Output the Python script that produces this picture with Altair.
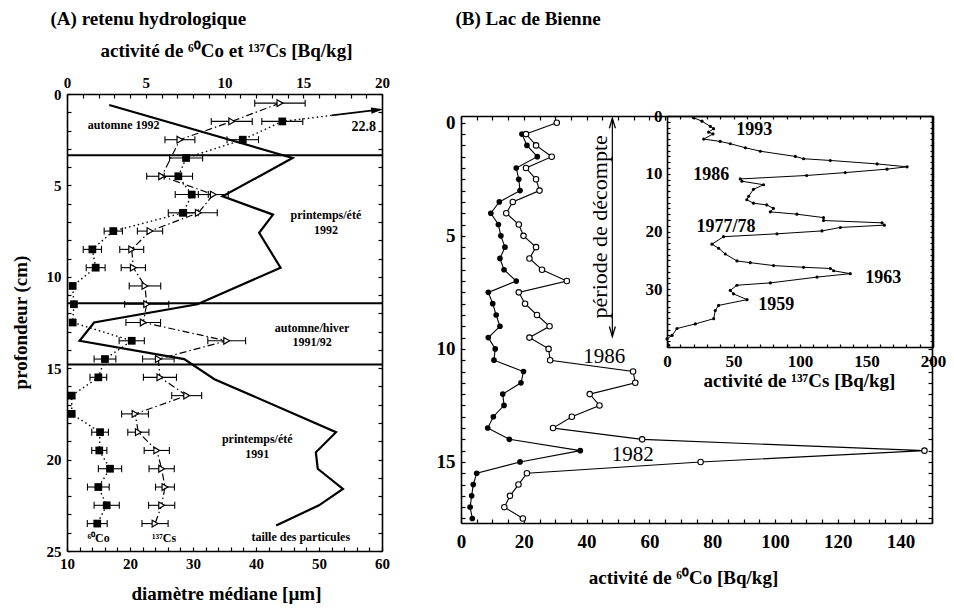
import altair as alt
import pandas as pd

FONT = "Liberation Serif"
W, H = 954, 610

# ================= DATA =================
# ---- Panel A : retenu hydrologique ----
co_depth = [1.5, 2.5, 3.5, 4.5, 5.5, 6.5, 7.5, 8.5, 9.5, 10.5, 11.5, 12.5,
            13.5, 14.5, 15.5, 16.5, 17.5, 18.5, 19.5, 20.5, 21.5, 22.5, 23.5]
co_act = [13.67, 11.16, 7.56, 7.07, 7.92, 7.38, 2.94, 1.61, 1.82, 0.36, 0.44, 0.36,
          4.11, 2.41, 1.99, 0.30, 0.30, 2.10, 2.05, 2.73, 1.99, 2.52, 1.92]
co_err = [1.3, 1.0, 1.05, 0.9, 1.05, 0.95, 0.58, 0.58, 0.6, 0, 0, 0,
          0.8, 0.69, 0.53, 0, 0, 0.53, 0.48, 0.74, 0.69, 0.8, 0.63]
cs_depth = [0.5, 1.5, 2.5, 4.5, 5.5, 6.5, 7.5, 8.5, 9.5, 10.5, 11.5, 12.5,
            13.5, 14.5, 15.5, 16.5, 17.5, 18.5, 19.5, 20.5, 21.5, 22.5, 23.5]
cs_act = [13.52, 10.46, 7.17, 6.01, 9.29, 8.34, 5.27, 4.11, 4.21, 4.95, 5.06, 4.84,
          10.14, 5.80, 5.90, 7.60, 4.32, 4.53, 5.70, 6.01, 6.22, 6.01, 5.59]
cs_err = [1.6, 1.3, 0.95, 0.95, 0.95, 1.2, 0.8, 0.76, 0.77, 1.0, 1.4, 1.1,
          1.2, 1.0, 1.05, 0.95, 0.85, 0.67, 0.8, 0.8, 0.6, 0.83, 0.83]
# off-scale 60Co value (22.8 Bq/kg) drawn as an arrow leaving the frame
co_arrow_act = [16.8, 19.7]
co_arrow_depth = [1.17, 0.87]
grain_depth = [0.6, 3.5, 5.6, 6.6, 7.6, 9.5, 11.5, 12.5, 13.5, 14.5, 15.6,
               18.5, 19.6, 20.5, 21.6, 22.5, 23.6]
grain_diam = [16.7, 45.8, 34.7, 42.7, 40.5, 43.9, 30.7, 14.3, 12.0, 28.6, 33.4,
              52.7, 49.5, 49.8, 53.8, 50.0, 43.2]
season_bounds = [3.35, 11.45, 14.8]

a_note_text = ["automne 1992", "printemps/été", "1992", "automne/hiver", "1991/92",
               "printemps/été", "1991"]
a_note_diam = [19.0, 51.1, 51.1, 48.9, 48.9, 40.2, 40.2]
a_note_depth = [1.7, 6.62, 7.42, 12.78, 13.58, 18.9, 19.7]
a_small_text = ["taille des particules", "⁶⁰Co", "¹³⁷Cs"]
a_small_diam = [47.1, 15.0, 25.4]
a_small_depth = [24.23, 24.29, 24.29]

# ---- Panel B : Lac de Bienne ----
b_open_depth = [0.0, 0.5, 1.0, 1.5, 2.0, 2.5, 3.0, 3.5, 4.0, 4.5, 5.0, 5.5, 6.0, 6.5,
                7.0, 7.5, 8.0, 8.5, 9.0, 9.5, 10.0, 10.5, 11.0, 11.5, 12.0, 12.5,
                13.0, 13.5, 14.0, 14.5, 15.0, 15.5, 16.0, 16.5, 17.0, 17.5]
b_open = [30.5, 20.7, 23.9, 28.9, 20.7, 23.9, 25.0, 16.5, 14.4, 18.4, 19.9, 23.9,
          21.8, 25.8, 33.7, 18.4, 20.4, 24.2, 28.2, 21.8, 27.9, 28.4, 54.8, 55.5,
          41.0, 44.1, 35.3, 29.3, 57.7, 147.6, 76.3, 21.0, 18.3, 15.6, 13.8, 19.7]
b_fill_depth = [0.5, 1.0, 1.5, 2.0, 2.5, 3.0, 3.5, 4.0, 4.5, 5.0, 5.5, 6.0, 6.5,
                7.0, 7.5, 8.0, 8.5, 9.0, 9.5, 10.0, 10.5, 11.0, 11.5, 12.0, 12.5,
                13.0, 13.5, 14.0, 14.5, 15.0, 15.5, 16.0, 16.5, 17.0, 17.5]
b_fill = [19.4, 21.0, 24.3, 17.6, 18.4, 18.8, 12.2, 9.5, 11.9, 12.7, 14.0, 12.4,
          13.7, 17.6, 8.7, 10.1, 11.2, 12.4, 8.7, 10.9, 10.5, 19.9, 19.1, 13.3,
          13.7, 10.3, 8.5, 15.4, 38.0, 18.8, 5.0, 3.9, 3.4, 2.9, 3.6]
b_note_text = ["1986", "1982"]
b_note_act = [45.6, 54.7]
b_note_depth = [10.35, 14.7]
count_period_act = [48.2]
count_period_top = [-0.2]
count_period_bottom = [9.45]

# ---- Inset : 137Cs ----
inset_cs = [20, 26.3, 32.6, 35, 31.3, 34.6, 27.6, 40, 47.6, 58.9, 70.2, 96.5, 102.7,
            122.8, 158, 180.5, 165.4, 134, 105, 55.1, 56.4, 72.6, 65, 61.4, 60, 65,
            75, 80, 77.7, 97.7, 117.7, 117.7, 161.7, 163.4, 130.3, 116.5, 82.7, 42.5,
            33.8, 38.8, 43.8, 52.6, 62.6, 80.1, 102.7, 122.8, 125.3, 137.8, 112.8,
            77.7, 52.6, 47.6, 50, 60.2, 38.8, 36.3, 35.1, 21.3, 7.5, 3.8, 0, 1.3]
inset_depth = [0.3, 0.9, 1.8, 2.2, 2.8, 3.1, 4.0, 4.4, 4.8, 5.5, 6.1, 7.0, 7.4,
               7.7, 8.3, 8.8, 9.2, 9.8, 10.3, 10.9, 11.3, 11.9, 12.7, 13.9, 14.5, 15.1,
               15.4, 16.0, 16.6, 17.0, 17.6, 18.1, 18.5, 18.9, 19.3, 19.9, 20.4, 20.9,
               22.2, 22.9, 23.9, 25.1, 25.4, 25.9, 26.2, 26.4, 26.8, 27.3, 27.9,
               28.9, 29.3, 30.2, 30.8, 31.8, 32.8, 33.7, 35.1, 36.0, 36.8, 38.0, 38.6, 39.7]
i_note_text = ["1993", "1986", "1977/78", "1963", "1959"]
i_note_cs = [65.6, 33.3, 44.4, 162.6, 82.2]
i_note_depth = [2.35, 10.2, 19.2, 28.0, 32.8]


# ================= SCALES =================
def S(d, r):
    return alt.Scale(domain=d, range=r, nice=False, zero=False)


XA_ACT = S([0, 20], [67, 382])
XA_DIA = S([10, 60], [67, 382])
YA = S([0, 25], [94, 551])
XB = S([0, 150], [461, 932])
YB = S([-0.3, 17.7], [116, 523])
XI = S([0, 200], [667, 933])
YI = S([0, 40], [116, 347])


def X(f, s):
    return alt.X(f, type="quantitative", scale=s, axis=None)


def Y(f, s):
    return alt.Y(f, type="quantitative", scale=s, axis=None)


def frame_axis(ch, scale, orient, pos, values, labels=False, **kw):
    off = {"left": -pos, "right": pos - W, "top": -pos, "bottom": pos - H}[orient]
    props = dict(orient=orient, offset=off, values=values, grid=False,
                 labelFlush=False, labelOverlap=False,
                 labelFont=FONT, titleFont=FONT, labelFontWeight="bold", titleFontWeight="bold",
                 labelColor="black", titleColor="black", domainColor="black", tickColor="black")
    if labels:
        props.update(ticks=False, domain=False, labels=True)
    else:
        props.update(ticks=True, tickSize=kw.pop("tickSize", 4), domain=True, labels=False)
    props.update(kw)
    props.setdefault("title", None)
    df = pd.DataFrame({"v": [values[0]]})
    enc = alt.X if ch == "x" else alt.Y
    return alt.Chart(df).mark_point(opacity=0).encode(
        **{ch: enc("v:Q", scale=scale, axis=alt.Axis(**props))})


def steps(a, b, s):
    out, v = [], a
    while v <= b + 1e-9:
        out.append(round(v, 3))
        v += s
    return out


def txt(**kw):
    base = dict(font=FONT, color="black")
    base.update(kw)
    return base


layers = []

# ================= PANEL A =================
bnd = pd.DataFrame({"z": season_bounds, "x0": [10] * 3, "x1": [60] * 3})
layers.append(alt.Chart(bnd).mark_rule(color="black", strokeWidth=2).encode(
    x=X("x0", XA_DIA), x2="x1", y=Y("z", YA)))

grain = pd.DataFrame({"d": grain_diam, "z": grain_depth, "i": range(len(grain_diam))})
layers.append(alt.Chart(grain).mark_line(color="black", strokeWidth=2.2).encode(
    x=X("d", XA_DIA), y=Y("z", YA), order="i:Q"))

co_line = pd.DataFrame({"v": [co_arrow_act[0]] + co_act, "z": [co_arrow_depth[0]] + co_depth})
co_line["i"] = range(len(co_line))
layers.append(alt.Chart(co_line).mark_line(color="black", strokeWidth=1.4, strokeDash=[1.5, 3]).encode(
    x=X("v", XA_ACT), y=Y("z", YA), order="i:Q"))
arrow = pd.DataFrame({"v": co_arrow_act, "z": co_arrow_depth, "i": [0, 1]})
layers.append(alt.Chart(arrow).mark_line(color="black", strokeWidth=1.6).encode(
    x=X("v", XA_ACT), y=Y("z", YA), order="i:Q"))
layers.append(alt.Chart(arrow.iloc[[1]]).mark_point(
    shape="M-1,-0.5L1,0L-1,0.5Z", filled=True, color="black", size=150, angle=353, opacity=1).encode(
    x=X("v", XA_ACT), y=Y("z", YA)))

cs_line = pd.DataFrame({"v": cs_act, "z": cs_depth, "i": range(len(cs_act))})
layers.append(alt.Chart(cs_line).mark_line(color="black", strokeWidth=1.2, strokeDash=[7, 3, 1.5, 3]).encode(
    x=X("v", XA_ACT), y=Y("z", YA), order="i:Q"))

for acts, deps, errs in [(co_act, co_depth, co_err), (cs_act, cs_depth, cs_err)]:
    eb = pd.DataFrame({"z": deps, "lo": [a - e for a, e in zip(acts, errs)],
                       "hi": [a + e for a, e in zip(acts, errs)], "e": errs})
    eb = eb[eb.e > 0]
    layers.append(alt.Chart(eb).mark_rule(color="black", strokeWidth=1.1).encode(
        x=X("lo", XA_ACT), x2="hi", y=Y("z", YA)))
    caps = pd.DataFrame({"z": list(eb.z) * 2, "v": list(eb.lo) + list(eb.hi)})
    layers.append(alt.Chart(caps).mark_point(shape="M0,-1L0,1", filled=False, color="black",
                                             size=49, strokeWidth=1.1, opacity=1).encode(
        x=X("v", XA_ACT), y=Y("z", YA)))

co_pts = pd.DataFrame({"v": co_act, "z": co_depth})
layers.append(alt.Chart(co_pts).mark_point(shape="square", filled=True, color="black", size=60, opacity=1).encode(
    x=X("v", XA_ACT), y=Y("z", YA)))
layers.append(alt.Chart(cs_line).mark_point(shape="triangle-right", filled=True, fill="white", stroke="black",
                                            strokeWidth=1.2, size=45, opacity=1).encode(
    x=X("v", XA_ACT), y=Y("z", YA)))

a_notes = pd.DataFrame({"d": a_note_diam, "z": a_note_depth, "t": a_note_text})
layers.append(alt.Chart(a_notes).mark_text(**txt(fontWeight="bold", fontSize=12)).encode(
    x=X("d", XA_DIA), y=Y("z", YA), text="t:N"))
a_small = pd.DataFrame({"d": a_small_diam, "z": a_small_depth, "t": a_small_text})
layers.append(alt.Chart(a_small).mark_text(**txt(fontWeight="bold", fontSize=12)).encode(
    x=X("d", XA_DIA), y=Y("z", YA), text="t:N"))
off_lbl = pd.DataFrame({"d": [57.1], "z": [1.8], "t": ["22.8"]})
layers.append(alt.Chart(off_lbl).mark_text(**txt(fontWeight="bold", fontSize=14)).encode(
    x=X("d", XA_DIA), y=Y("z", YA), text="t:N"))

# Panel A frame / axes
layers += [
    frame_axis("y", YA, "left", 67, [0, 5, 10, 15, 20, 25], labels=True, labelFontSize=15, labelPadding=6,
               title="profondeur (cm)", titleFontSize=19, titleX=-47, titleY=322,
               titleBaseline="middle", titleAlign="center"),
    frame_axis("y", YA, "right", 67, steps(0, 25, 1)),
    frame_axis("y", YA, "left", 382, steps(0, 25, 1)),
    frame_axis("x", XA_ACT, "top", 94, [0, 5, 10, 15, 20], labels=True, labelFontSize=15, labelPadding=4,
               title="activité de ⁶⁰Co et ¹³⁷Cs [Bq/kg]", titleFontSize=19, titleX=226, titleY=-44,
               titleBaseline="middle"),
    frame_axis("x", XA_ACT, "bottom", 94, steps(0, 20, 1),
               title="(A) retenu hydrologique", titleFontSize=19, titleX=50, titleY=-76,
               titleAlign="left", titleBaseline="middle"),
    frame_axis("x", XA_DIA, "bottom", 551, [10, 20, 30, 40, 50, 60], labels=True, labelFontSize=15,
               labelPadding=5, title="diamètre médiane [µm]", titleFontSize=19, titleX=226, titleY=42,
               titleBaseline="middle"),
    frame_axis("x", XA_DIA, "top", 551, steps(10, 60, 2)),
]

# ================= PANEL B =================
bo = pd.DataFrame({"v": b_open, "z": b_open_depth, "i": range(len(b_open))})
bf = pd.DataFrame({"v": b_fill, "z": b_fill_depth, "i": range(len(b_fill))})
layers.append(alt.Chart(bf).mark_line(color="black", strokeWidth=1.1).encode(
    x=X("v", XB), y=Y("z", YB), order="i:Q"))
layers.append(alt.Chart(bo).mark_line(color="black", strokeWidth=1.1).encode(
    x=X("v", XB), y=Y("z", YB), order="i:Q"))
layers.append(alt.Chart(bf).mark_circle(color="black", size=32, opacity=1).encode(
    x=X("v", XB), y=Y("z", YB)))
layers.append(alt.Chart(bo).mark_point(shape="circle", filled=True, fill="white", stroke="black",
                                       strokeWidth=1.1, size=30, opacity=1).encode(
    x=X("v", XB), y=Y("z", YB)))

b_notes = pd.DataFrame({"v": b_note_act, "z": b_note_depth, "t": b_note_text})
layers.append(alt.Chart(b_notes).mark_text(**txt(fontSize=21)).encode(
    x=X("v", XB), y=Y("z", YB), text="t:N"))
period = pd.DataFrame({"v": [44.2], "z": [4.6], "t": ["période de décompte"]})
layers.append(alt.Chart(period).mark_text(**txt(fontSize=22, angle=270)).encode(
    x=X("v", XB), y=Y("z", YB), text="t:N"))
cp = pd.DataFrame({"v": count_period_act, "z0": count_period_top, "z1": count_period_bottom})
layers.append(alt.Chart(cp).mark_rule(color="black", strokeWidth=1.2).encode(
    x=X("v", XB), y=Y("z0", YB), y2="z1"))
heads_up = pd.DataFrame({"v": count_period_act, "z": [count_period_top[0] + 0.22]})
heads_dn = pd.DataFrame({"v": count_period_act, "z": [count_period_bottom[0] - 0.22]})
layers.append(alt.Chart(heads_up).mark_point(shape="M-0.6,1L0,-1L0.6,1", filled=False, color="black",
                                             size=100, strokeWidth=1.3, opacity=1).encode(
    x=X("v", XB), y=Y("z", YB)))
layers.append(alt.Chart(heads_dn).mark_point(shape="M-0.6,-1L0,1L0.6,-1", filled=False, color="black",
                                             size=100, strokeWidth=1.3, opacity=1).encode(
    x=X("v", XB), y=Y("z", YB)))

layers += [
    frame_axis("y", YB, "left", 461, [0, 5, 10, 15], labels=True, labelFontSize=19, labelPadding=6),
    frame_axis("y", YB, "right", 461, steps(0, 17.5, 0.5)),
    frame_axis("y", YB, "left", 932, steps(10, 17.5, 0.5)),
    frame_axis("x", XB, "bottom", 116, steps(0, 65, 5),
               title="(B) Lac de Bienne", titleFontSize=19, titleX=455, titleY=-98,
               titleAlign="left", titleBaseline="middle"),
    frame_axis("x", XB, "top", 523, steps(0, 150, 5)),
    frame_axis("x", XB, "bottom", 523, steps(0, 140, 20), labels=True, labelFontSize=19, labelPadding=9,
               title="activité de ⁶⁰Co [Bq/kg]", titleFontSize=19, titleX=683, titleY=54,
               titleBaseline="middle"),
]

# ================= INSET =================
ins = pd.DataFrame({"v": inset_cs, "z": inset_depth, "i": range(len(inset_cs))})
layers.append(alt.Chart(ins).mark_line(color="black", strokeWidth=1.0).encode(
    x=X("v", XI), y=Y("z", YI), order="i:Q"))
layers.append(alt.Chart(ins).mark_circle(color="black", size=10, opacity=1).encode(
    x=X("v", XI), y=Y("z", YI)))
i_notes = pd.DataFrame({"v": i_note_cs, "z": i_note_depth, "t": i_note_text})
layers.append(alt.Chart(i_notes).mark_text(**txt(fontWeight="bold", fontSize=18)).encode(
    x=X("v", XI), y=Y("z", YI), text="t:N"))

layers += [
    frame_axis("y", YI, "left", 667, [0, 10, 20, 30], labels=True, labelFontSize=17, labelPadding=5),
    frame_axis("y", YI, "right", 667, steps(0, 40, 1), tickSize=3),
    frame_axis("y", YI, "left", 933, steps(0, 40, 1), tickSize=3),
    frame_axis("x", XI, "bottom", 116, steps(0, 200, 10), tickSize=3),
    frame_axis("x", XI, "top", 347, steps(0, 200, 10), tickSize=3),
    frame_axis("x", XI, "bottom", 347, [0, 50, 100, 150, 200], labels=True, labelFontSize=17,
               labelPadding=6, title="activité de ¹³⁷Cs [Bq/kg]", titleFontSize=19, titleX=799, titleY=33,
               titleBaseline="middle"),
]

chart = (
    alt.layer(*layers)
    .resolve_scale(x="independent", y="independent")
    .properties(width=W, height=H, autosize=alt.AutoSizeParams(type="none"), padding=0)
    .configure_view(stroke=None)
    .configure_axis(domainColor="black", tickColor="black", labelColor="black", titleColor="black",
                    labelFont=FONT, titleFont=FONT, labelFontWeight="bold", titleFontWeight="bold",
                    domainWidth=1.6, tickWidth=1.2)
)

chart.save("out.html", embed_options={"renderer": "svg", "actions": False})
